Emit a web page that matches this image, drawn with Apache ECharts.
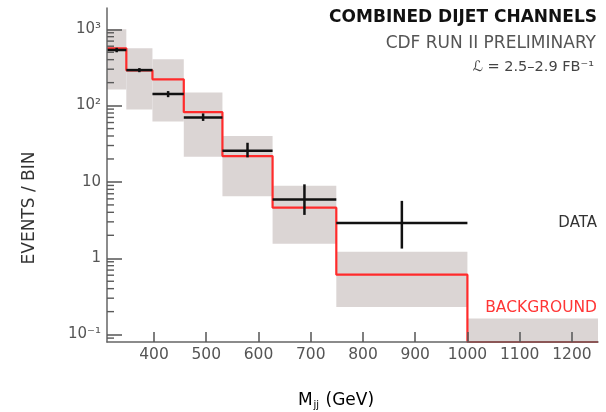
<!DOCTYPE html>
<html>
<head>
<meta charset="utf-8">
<script src="https://cdn.jsdelivr.net/npm/echarts@6/dist/echarts.min.js"></script>
<style>
  html, body { margin: 0; padding: 0; background: #fff; }
  #chart { width: 606px; height: 412px; }
</style>
</head>
<body>
<div id="chart"></div>
<script>
// Dijet invariant-mass bins (GeV)
const binEdges = [310, 347, 397, 457, 531, 627, 749, 1000, 1250];

// Observed events per bin with vertical error bars (last bin has no data)
const dataValues  = [535, 292, 142, 70, 25.6, 5.9, 2.9];
const dataErrLow  = [500, 274, 129, 63, 21, 3.7, 1.34];
const dataErrHigh = [572, 310, 155, 79, 32.6, 9.3, 5.65];

// Background expectation and its uncertainty band
const backgroundValues = [564, 290, 221, 82, 21.8, 4.6, 0.61, 0.08];
const bandLow  = [163, 89, 62, 21.3, 6.5, 1.55, 0.23, 0.05];
const bandHigh = [1000, 564, 405, 148, 40, 8.9, 1.22, 0.162];

// Axis ticks
const xTickValues = [400, 500, 600, 700, 800, 900, 1000, 1100, 1200];
const yMajorTicks = [0.1, 1, 10, 100, 1000];
const yMinorTicks = [
  0.09,
  0.2, 0.3, 0.4, 0.5, 0.6, 0.7, 0.8, 0.9,
  2, 3, 4, 5, 6, 7, 8, 9,
  20, 30, 40, 50, 60, 70, 80, 90,
  200, 300, 400, 500, 600, 700, 800, 900
];
const yTickText = { 0.1: '10\u207B\u00B9', 1: '1', 10: '10', 100: '10\u00B2', 1000: '10\u00B3' };

const FONT = 'DejaVu Sans';
const X_MIN = 310, X_MAX = 1250, Y_MIN = 0.08, Y_MAX = 1900;

const chart = echarts.init(document.getElementById('chart'));

function clipToGrid(rect, params) {
  const cs = params.coordSys;
  return echarts.graphic.clipRectByRect(rect, { x: cs.x, y: cs.y, width: cs.width, height: cs.height });
}

const bandData = bandLow.map((lo, i) => [binEdges[i], binEdges[i + 1], lo, bandHigh[i]]);
const dataPoints = dataValues.map((v, i) => [binEdges[i], binEdges[i + 1], v, dataErrLow[i], dataErrHigh[i]]);
const stepLine = backgroundValues.map((v, i) => [binEdges[i], v]);
stepLine.push([binEdges[binEdges.length - 1], backgroundValues[backgroundValues.length - 1]]);
const minorTickData = yMinorTicks.map(v => [X_MIN, v]);

chart.setOption({
  animation: false,
  backgroundColor: '#fff',
  grid: { left: 107, right: 8, top: 8, bottom: 70, containLabel: false },
  xAxis: {
    type: 'value', min: X_MIN, max: X_MAX, z: 5,
    splitLine: { show: false },
    axisLine: { lineStyle: { color: '#666', width: 1.5 } },
    axisTick: { inside: true, length: 10, customValues: xTickValues, lineStyle: { color: '#555', width: 1.5 } },
    axisLabel: {
      customValues: xTickValues, color: '#555', fontFamily: FONT, fontSize: 15.5, margin: 5,
      formatter: v => String(v)
    }
  },
  yAxis: {
    type: 'log', logBase: 10, min: Y_MIN, max: Y_MAX, z: 5,
    splitLine: { show: false },
    axisLine: { show: true, lineStyle: { color: '#666', width: 1.5 } },
    axisTick: { show: true, inside: true, length: 15, customValues: yMajorTicks, lineStyle: { color: '#555', width: 1.5 } },
    axisLabel: {
      customValues: yMajorTicks, color: '#555', fontFamily: FONT, fontSize: 15, margin: 6,
      formatter: v => yTickText[v] !== undefined ? yTickText[v] : ''
    }
  },
  series: [
    {
      name: 'band', type: 'custom', z: 1,
      data: bandData,
      encode: { x: [0, 1], y: [2, 3] },
      renderItem(params, api) {
        const p0 = api.coord([api.value(0), api.value(3)]);
        const p1 = api.coord([api.value(1), api.value(2)]);
        const rect = clipToGrid({ x: p0[0], y: p0[1], width: p1[0] - p0[0], height: p1[1] - p0[1] }, params);
        return rect && { type: 'rect', shape: rect, style: { fill: '#dbd5d4' } };
      }
    },
    {
      // short minor ticks of the logarithmic y axis (2..9 per decade)
      name: 'minorTicks', type: 'custom', z: 6, silent: true,
      data: minorTickData,
      encode: { x: 0, y: 1 },
      renderItem(params, api) {
        const p = api.coord([api.value(0), api.value(1)]);
        return {
          type: 'line',
          shape: { x1: p[0], y1: p[1], x2: p[0] + 7, y2: p[1] },
          style: { stroke: '#5a5a5a', lineWidth: 1.4 }
        };
      }
    },
    {
      name: 'BACKGROUND', type: 'line', step: 'end', z: 3, clip: true,
      data: stepLine, showSymbol: false, symbol: 'none',
      lineStyle: { color: '#ff2b2b', width: 2.2 }
    },
    {
      name: 'DATA', type: 'custom', z: 4,
      data: dataPoints,
      encode: { x: [0, 1], y: [2, 3, 4] },
      renderItem(params, api) {
        const y = api.value(2);
        const left = api.coord([api.value(0), y]);
        const right = api.coord([api.value(1), y]);
        const xc = (api.value(0) + api.value(1)) / 2;
        const lo = api.coord([xc, api.value(3)]);
        const hi = api.coord([xc, api.value(4)]);
        const style = { stroke: '#111', lineWidth: 2.5 };
        return {
          type: 'group',
          children: [
            { type: 'line', shape: { x1: left[0], y1: left[1], x2: right[0], y2: right[1] }, style },
            { type: 'line', shape: { x1: lo[0], y1: lo[1], x2: hi[0], y2: hi[1] }, style }
          ]
        };
      }
    }
  ],
  graphic: [
    { type: 'text', x: 597, y: 17.5, style: { text: 'COMBINED DIJET CHANNELS', fill: '#111', font: 'bold 17px "DejaVu Sans"', align: 'right', verticalAlign: 'middle' } },
    { type: 'text', x: 596, y: 44, style: { text: 'CDF RUN II PRELIMINARY', fill: '#555', font: '17px "DejaVu Sans"', align: 'right', verticalAlign: 'middle' } },
    { type: 'text', x: 594, y: 67, style: { text: '\u2112 = 2.5\u20132.9 FB\u207B\u00B9', fill: '#444', font: '14.5px "DejaVu Sans"', align: 'right', verticalAlign: 'middle' } },
    { type: 'text', x: 597, y: 223, style: { text: 'DATA', fill: '#333', font: '15px "DejaVu Sans"', align: 'right', verticalAlign: 'middle' } },
    { type: 'text', x: 597, y: 308, style: { text: 'BACKGROUND', fill: '#ff3535', font: '15.5px "DejaVu Sans"', align: 'right', verticalAlign: 'middle' } },
    {
      type: 'text', x: 30, y: 208, rotation: Math.PI / 2,
      style: { text: 'EVENTS / BIN', fill: '#333', font: '17px "DejaVu Sans"', align: 'center', verticalAlign: 'middle' }
    },
    {
      type: 'text', x: 336, y: 401,
      style: {
        text: '{m|M}{s|jj}{m| (GeV)}', align: 'center', verticalAlign: 'middle',
        rich: {
          m: { fontSize: 17, fontFamily: FONT, color: '#333' },
          s: { fontSize: 10, fontFamily: FONT, color: '#333', padding: [8, 1, 0, 1] }
        }
      }
    }
  ]
});
</script>
</body>
</html>
